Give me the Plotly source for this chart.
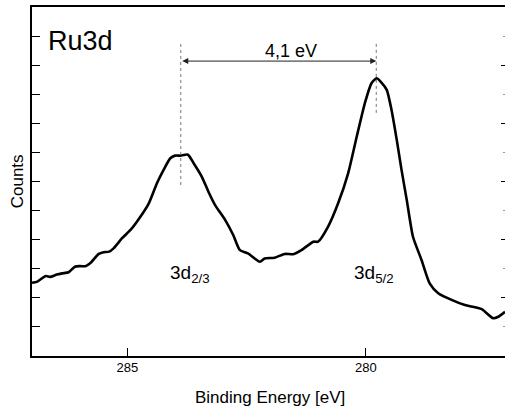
import plotly.graph_objects as go

# Binding energy (eV) and intensity (arbitrary units)
binding_energy = [287.00, 286.90, 286.71, 286.62, 286.48, 286.37, 286.23, 286.10, 285.99, 285.88,
                  285.78, 285.60, 285.50, 285.38, 285.29, 285.11, 284.92, 284.76, 284.55, 284.38,
                  284.24, 284.10, 284.00, 283.89, 283.73, 283.61, 283.44, 283.30, 283.16, 282.95,
                  282.78, 282.64, 282.47, 282.22, 282.12, 281.91, 281.70, 281.52, 281.35, 281.10,
                  281.00, 280.79, 280.58, 280.37, 280.19, 280.02, 279.88, 279.77, 279.68, 279.56,
                  279.46, 279.35, 279.25, 279.14, 279.01, 278.83, 278.66, 278.48, 278.20, 277.92,
                  277.57, 277.33, 277.22, 277.08]
counts = [2.52, 2.55, 2.75, 2.72, 2.80, 2.84, 2.88, 3.07, 3.09, 3.09,
          3.19, 3.51, 3.57, 3.59, 3.70, 4.05, 4.36, 4.71, 5.25, 5.94,
          6.40, 6.80, 6.89, 6.89, 6.92, 6.63, 6.17, 5.65, 5.19, 4.68,
          4.16, 3.64, 3.53, 3.24, 3.35, 3.38, 3.51, 3.50, 3.64, 3.93,
          3.93, 4.45, 5.25, 6.28, 7.54, 8.69, 9.38, 9.55, 9.42, 9.15,
          8.46, 7.43, 6.40, 5.36, 4.10, 3.30, 2.50, 2.16, 1.93, 1.75,
          1.61, 1.30, 1.35, 1.52]

x_range = [287.0, 277.08]
y_range = [0, 12]
x_tick_vals = [285, 280]
x_tick_text = ["285", "280"]

peak_positions = [283.88, 279.78]
peak_line_tops = [10.76, 10.76]
peak_line_bottoms = [5.88, 8.36]
peak_labels = ["3d<sub>2/3</sub>", "3d<sub>5/2</sub>"]
peak_label_x = [284.15, 280.29]
peak_label_y = [2.82, 2.82]
split_label = "4,1 eV"
split_label_x = 281.57
arrow_y = 10.14
panel_label = "Ru3d"

FONT = "Liberation Sans, Arial, sans-serif"

fig = go.Figure()
fig.add_trace(go.Scatter(x=binding_energy, y=counts, mode="lines",
                         line=dict(color="black", width=2.6, shape="spline", smoothing=0.6),
                         showlegend=False, hoverinfo="skip"))
# invisible trace to activate right-hand tick axis
fig.add_trace(go.Scatter(x=[x_range[0]], y=[y_range[0]], yaxis="y2", mode="markers",
                         marker=dict(opacity=0), showlegend=False, hoverinfo="skip"))

for px, top, bot in zip(peak_positions, peak_line_tops, peak_line_bottoms):
    fig.add_shape(type="line", x0=px, x1=px, y0=bot, y1=top, xref="x", yref="y",
                  line=dict(color="#777777", width=1, dash="dot"))

# double-headed arrow for the spin-orbit splitting
fig.add_annotation(x=peak_positions[1], y=arrow_y, ax=peak_positions[0], ay=arrow_y,
                   xref="x", yref="y", axref="x", ayref="y", text="",
                   showarrow=True, arrowhead=2, arrowside="end+start", arrowsize=1.2,
                   arrowwidth=1, arrowcolor="#222222")
fig.add_annotation(x=split_label_x, y=arrow_y + 0.36,
                   xref="x", yref="y", text=split_label, showarrow=False,
                   font=dict(family=FONT, size=18, color="black"))

for lab, lx, ly in zip(peak_labels, peak_label_x, peak_label_y):
    fig.add_annotation(x=lx, y=ly, xref="x", yref="y", text=lab, showarrow=False,
                       xanchor="left", yanchor="middle",
                       font=dict(family=FONT, size=19, color="black"))

fig.add_annotation(x=0.029, y=0.903, xref="paper", yref="paper", text=panel_label,
                   showarrow=False, xanchor="left", yanchor="middle",
                   font=dict(family=FONT, size=27, color="black"))

# axis titles
fig.add_annotation(x=-0.03, y=0.5, xref="paper", yref="paper", text="Counts",
                   textangle=-90, showarrow=False, xanchor="center", yanchor="middle",
                   font=dict(family=FONT, size=17, color="black"))
fig.add_annotation(x=0.503, y=-0.1175, xref="paper", yref="paper", text="Binding Energy [eV]",
                   showarrow=False, xanchor="center", yanchor="middle",
                   font=dict(family=FONT, size=17, color="black"))

fig.update_layout(
    width=505, height=409,
    margin=dict(l=32, r=0, t=7, b=53),
    paper_bgcolor="white", plot_bgcolor="white",
    font=dict(family=FONT, color="black"),
    xaxis=dict(range=x_range, tickvals=x_tick_vals, ticktext=x_tick_text,
               ticks="inside", ticklen=8, tickwidth=1, tickcolor="black",
               showline=True, linecolor="black", linewidth=1.5, mirror=True,
               showgrid=False, zeroline=False, tickfont=dict(size=13, family=FONT),
               ticklabelstandoff=-1),
    yaxis=dict(range=y_range, tick0=0, dtick=1, ticks="inside", ticklen=8,
               tickwidth=1, tickcolor="black", showticklabels=False,
               showline=True, linecolor="black", linewidth=1.5, mirror=False,
               showgrid=False, zeroline=False),
    yaxis2=dict(range=y_range, overlaying="y", side="right", tick0=0, dtick=2,
                ticks="inside", ticklen=4, tickwidth=1, tickcolor="black",
                showticklabels=False, showline=False, showgrid=False, zeroline=False,
                minor=dict(dtick=1, ticks="inside", ticklen=2, tickcolor="#999999", showgrid=False)),
)

fig.write_html("out.html", config={"responsive": False, "displayModeBar": False},
               post_script="document.body.style.margin='0px';document.body.style.overflow='hidden';")
